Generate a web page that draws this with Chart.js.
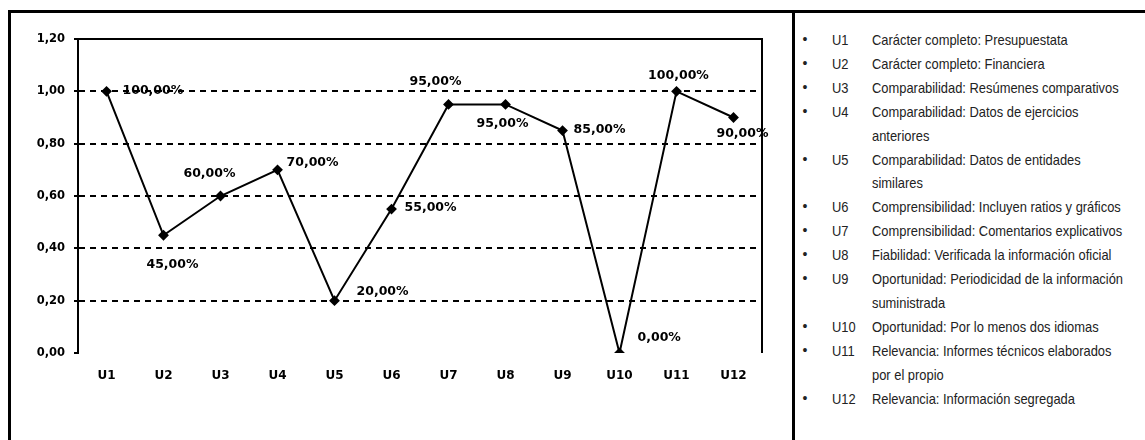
<!DOCTYPE html>
<html>
<head>
<meta charset="utf-8">
<script src="https://cdn.jsdelivr.net/npm/chart.js@4.4.0/dist/chart.umd.min.js"></script>
<style>
  html, body { margin: 0; padding: 0; background: #fff; }
  body { width: 1145px; height: 440px; position: relative; overflow: hidden; }
  #frame { position: absolute; left: 8px; top: 10px; width: 1160px; height: 460px;
           border-left: 3px solid #000; border-top: 3px solid #000; box-sizing: border-box; }
  #divider { position: absolute; left: 792px; top: 10px; width: 3px; height: 440px; background: #000; }
  #chartWrap { position: absolute; left: 0; top: 0; width: 790px; height: 440px; }
  #legend { position: absolute; left: 800px; top: 28px; margin: 0; padding: 0; list-style: none;
            font-family: "Liberation Sans", Arial, sans-serif;
            font-size: 15px; line-height: 23.9px; color: #222; }
  #legend li { position: relative; height: auto; }
  #legend .b { position: absolute; left: 0; top: 0; width: 10px; text-align: center; font-size: 14px; }
  #legend .c { position: absolute; left: 32px; top: 0; display: inline-block; transform: scaleX(0.86); transform-origin: 0 0; }
  #legend .t { display: inline-block; margin-left: 72px; width: 298px; transform: scaleX(0.86); transform-origin: 0 0; white-space: normal; }
</style>
</head>
<body>
<div id="frame"></div>
<div id="divider"></div>
<div id="chartWrap"><canvas id="c" width="790" height="440"></canvas></div>
<ul id="legend"></ul>
<script>
const categories = ['U1','U2','U3','U4','U5','U6','U7','U8','U9','U10','U11','U12'];
const values = [1.00, 0.45, 0.60, 0.70, 0.20, 0.55, 0.95, 0.95, 0.85, 0.00, 1.00, 0.90];
const yTickValues = [0, 0.2, 0.4, 0.6, 0.8, 1.0, 1.2];
const legendItems = [
  'Carácter completo: Presupuestata',
  'Carácter completo: Financiera',
  'Comparabilidad: Resúmenes comparativos',
  'Comparabilidad: Datos de ejercicios anteriores',
  'Comparabilidad: Datos de entidades similares',
  'Comprensibilidad: Incluyen ratios y gráficos',
  'Comprensibilidad: Comentarios explicativos',
  'Fiabilidad: Verificada la información oficial',
  'Oportunidad: Periodicidad de la información suministrada',
  'Oportunidad: Por lo menos dos idiomas',
  'Relevancia: Informes técnicos elaborados por el propio',
  'Relevancia: Información segregada'
];
// label placement style per point: [dx, dy, align]
const labelPlacement = [
  [16, -1, 'left'], [9, 29, 'center'], [-11, -22, 'center'], [9, -7, 'left'],
  [22, -9, 'left'], [13, -1, 'left'], [-13, -23, 'center'], [-3, 19, 'center'],
  [11, -1, 'left'], [18, -15, 'left'], [2, -16, 'center'], [9, 16, 'center']
];

const legendEl = document.getElementById('legend');
legendItems.forEach((txt, i) => {
  const li = document.createElement('li');
  li.innerHTML = '<span class="b">•</span><span class="c">' + categories[i] + '</span><span class="t">' + txt + '</span>';
  legendEl.appendChild(li);
});

const fmtNum = v => v.toFixed(2).replace('.', ',');
const fmtPct = v => (v * 100).toFixed(2).replace('.', ',') + '%';

const frameLines = {
  id: 'frameLines',
  afterDraw(chart) {
    const {ctx, chartArea: a} = chart;
    ctx.save();
    ctx.strokeStyle = '#000';
    ctx.lineWidth = 2;
    ctx.beginPath();
    ctx.moveTo(a.left, a.top);
    ctx.lineTo(a.right, a.top);
    ctx.lineTo(a.right, a.bottom);
    ctx.stroke();
    ctx.restore();
  }
};

const pointLabels = {
  id: 'pointLabels',
  afterDatasetsDraw(chart) {
    const {ctx} = chart;
    const meta = chart.getDatasetMeta(0);
    ctx.save();
    ctx.fillStyle = '#000';
    ctx.font = 'bold 12.5px "DejaVu Sans", sans-serif';
    ctx.textBaseline = 'middle';
    meta.data.forEach((pt, i) => {
      const [dx, dy, al] = labelPlacement[i];
      ctx.textAlign = al;
      ctx.fillText(fmtPct(values[i]), pt.x + dx, pt.y + dy);
    });
    ctx.restore();
  }
};

new Chart(document.getElementById('c'), {
  type: 'line',
  data: {
    labels: categories,
    datasets: [{
      data: values,
      borderColor: '#000',
      backgroundColor: '#000',
      borderWidth: 2,
      pointStyle: 'rectRot',
      pointRadius: 4,
      pointBackgroundColor: '#000',
      pointBorderColor: '#000',
      tension: 0,
      fill: false
    }]
  },
  options: {
    responsive: false,
    animation: false,
    devicePixelRatio: 1,
    layout: { padding: { left: 0, right: 28, top: 39, bottom: 57 } },
    plugins: { legend: { display: false }, tooltip: { enabled: false }, title: { display: false } },
    scales: {
      x: {
        offset: true,
        grid: { display: false, drawTicks: false },
        border: { display: false },
        ticks: {
          color: '#000', padding: 16, maxRotation: 0, autoSkip: false,
          font: { family: '"DejaVu Sans", sans-serif', weight: 'bold', size: 12 }
        },
        afterFit(scale) { scale.height = 30; }
      },
      y: {
        min: 0, max: 1.2,
        afterBuildTicks(scale) { scale.ticks = yTickValues.map(v => ({ value: v })); },
        grid: {
          display: true,
          drawOnChartArea: true,
          drawTicks: true,
          tickLength: 4,
          lineWidth: 2,
          tickWidth: 2,
          tickColor: '#000',
          tickBorderDash: [],
          color: ctx => (ctx.tick && (ctx.tick.value === 0 || Math.abs(ctx.tick.value - 1.2) < 1e-9)) ? 'rgba(0,0,0,0)' : '#000'
        },
        border: { display: true, color: '#000', width: 2, dash: [6, 5] },
        ticks: {
          color: '#000', padding: 9,
          font: { family: '"DejaVu Sans", sans-serif', weight: 'bold', size: 11.5 },
          callback: v => fmtNum(v)
        },
        afterFit(scale) { scale.width = 78; }
      }
    }
  },
  plugins: [frameLines, pointLabels]
});
</script>
</body>
</html>
